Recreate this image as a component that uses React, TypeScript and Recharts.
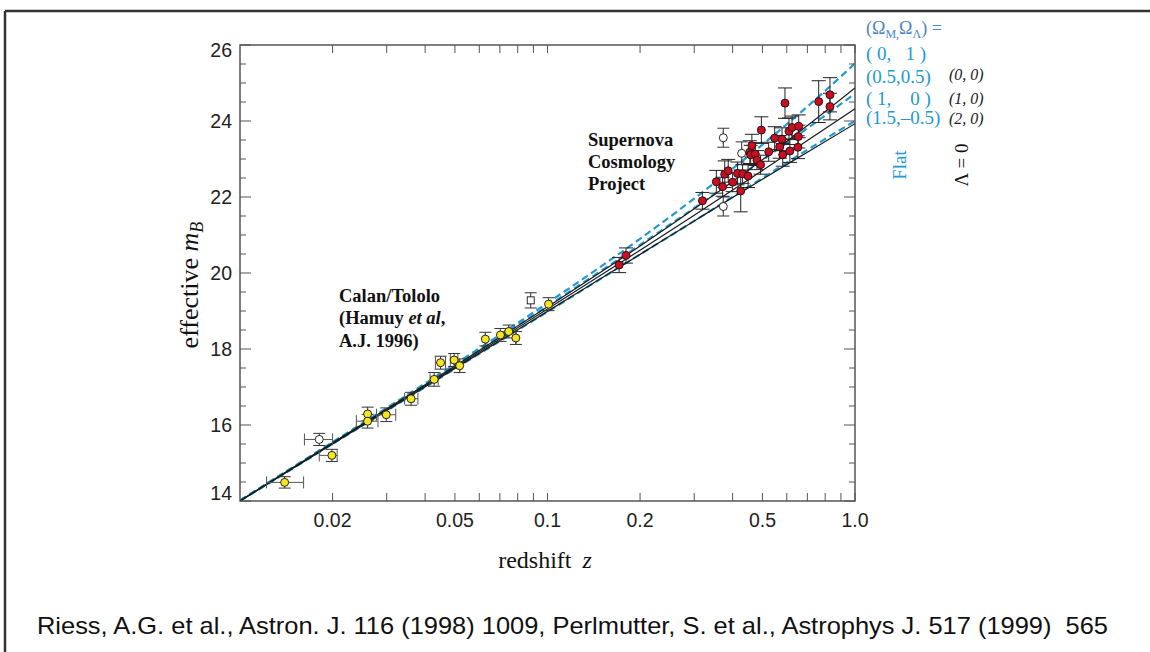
import React from "react";
import { ComposedChart, Line, Scatter, ErrorBar, XAxis, YAxis, ReferenceArea } from "recharts";

// plot box (pixels) – chart margins below are built from these
const PLOT_LEFT = 240;
const PLOT_RIGHT = 855;
const PLOT_TOP = 45;
const PLOT_BOTTOM = 501;

const SERIF = '"Liberation Serif", "DejaVu Serif", serif';
const SANS = '"Liberation Sans", Arial, sans-serif';
const BLUE = "#2399d2";

// model curves at these redshifts
const modelZ = [0.01, 0.02, 0.05, 0.1, 0.2, 0.3, 0.5, 0.7, 1.0];
const flat0_1 = [14.02, 15.55, 17.6, 19.21, 20.9, 21.96, 23.38, 24.38, 25.51];
const open0_0 = [14.01, 15.53, 17.55, 19.11, 20.71, 21.69, 22.98, 23.88, 24.87];
const flat05_05 = [14.01, 15.53, 17.56, 19.13, 20.74, 21.71, 22.97, 23.81, 24.72];
const eds1_0 = [14.0, 15.52, 17.52, 19.05, 20.6, 21.52, 22.7, 23.49, 24.32];
const flat15_m05 = [14.0, 15.5, 17.48, 18.98, 20.49, 21.37, 22.5, 23.24, 24.0];
const closed2_0 = [14.0, 15.5, 17.49, 18.99, 20.49, 21.37, 22.47, 23.18, 23.93];

// Calan/Tololo: [z, mB, dm, zLow, zHigh]
const calanTololo: number[][] = [
  [0.01397, 14.49, 0.15, 0.0122, 0.0161],
  [0.0199, 15.2, 0.16, 0.0181, 0.0207],
  [0.026, 16.29, 0.18, 0.026, 0.026],
  [0.026, 16.1, 0.18, 0.0239, 0.0281],
  [0.0299, 16.27, 0.18, 0.0278, 0.0321],
  [0.036, 16.69, 0.17, 0.0343, 0.0379],
  [0.0428, 17.2, 0.18, 0.0415, 0.0441],
  [0.0449, 17.64, 0.17, 0.0432, 0.0466],
  [0.0497, 17.71, 0.17, 0.0483, 0.0511],
  [0.0518, 17.56, 0.18, 0.0518, 0.0518],
  [0.0628, 18.26, 0.18, 0.0628, 0.0628],
  [0.0703, 18.37, 0.17, 0.0703, 0.0703],
  [0.0748, 18.46, 0.17, 0.0748, 0.0748],
  [0.0789, 18.29, 0.17, 0.0789, 0.0789],
  [0.1008, 19.18, 0.17, 0.1008, 0.1008],
];

// Supernova Cosmology Project: [z, mB, dm]
const scp: number[][] = [
  [0.171, 20.21, 0.2], [0.18, 20.46, 0.2], [0.319, 21.9, 0.22], [0.354, 22.4, 0.3],
  [0.371, 22.27, 0.25], [0.377, 22.6, 0.35], [0.387, 22.69, 0.3], [0.4, 22.39, 0.25],
  [0.415, 22.62, 0.3], [0.425, 22.16, 0.55], [0.431, 22.61, 0.25], [0.449, 22.55, 0.3],
  [0.455, 23.18, 0.3], [0.462, 23.35, 0.3], [0.458, 23.11, 0.25], [0.474, 23.13, 0.3],
  [0.48, 22.97, 0.25], [0.493, 22.85, 0.25], [0.496, 23.76, 0.35], [0.524, 23.19, 0.25],
  [0.548, 23.55, 0.3], [0.569, 23.32, 0.3], [0.579, 23.52, 0.3], [0.582, 23.11, 0.3],
  [0.592, 24.47, 0.4], [0.61, 23.73, 0.35], [0.614, 23.21, 0.3], [0.624, 23.83, 0.3],
  [0.656, 23.86, 0.3], [0.654, 23.59, 0.3], [0.652, 23.31, 0.3], [0.762, 24.51, 0.55],
  [0.829, 24.69, 0.45], [0.829, 24.38, 0.35],
];

// excluded points (open circles): [z, mB, dm, zLow, zHigh]
const excludedCircles: number[][] = [
  [0.0181, 15.62, 0.16, 0.0162, 0.02],
  [0.373, 23.56, 0.25, 0.373, 0.373],
  [0.373, 21.75, 0.25, 0.373, 0.373],
  [0.428, 23.15, 0.3, 0.428, 0.428],
];
const excludedSquares: number[][] = [[0.0882, 19.28, 0.2]];

const xTicks = [0.02, 0.03, 0.04, 0.05, 0.06, 0.07, 0.08, 0.09, 0.1, 0.2, 0.3, 0.4, 0.5, 0.6, 0.7, 0.8, 0.9, 1.0];
const xTickLabels: Record<string, string> = { "0.02": "0.02", "0.05": "0.05", "0.1": "0.1", "0.2": "0.2", "0.5": "0.5", "1": "1.0" };
const yTicks = [14, 14.5, 15, 15.5, 16, 16.5, 17, 17.5, 18, 18.5, 19, 19.5, 20, 20.5, 21, 21.5, 22, 22.5, 23, 23.5, 24, 24.5, 25, 25.5, 26];

const curve = (vals: number[]) => modelZ.map((z, i) => ({ z, m: vals[i] }));
const points = (rows: number[][]) =>
  rows.map((r) => ({
    z: r[0],
    m: r[1],
    ey: r[2],
    ex: [r[0] - (r[3] ?? r[0]), (r[4] ?? r[0]) - r[0]],
  }));

const XTick = (props: any) => {
  const { x, payload } = props;
  const label = xTickLabels[String(payload.value)];
  return (
    <g>
      <line x1={x} x2={x} y1={PLOT_BOTTOM} y2={PLOT_BOTTOM - 8} stroke="#555" strokeWidth={1} />
      <line x1={x} x2={x} y1={PLOT_TOP} y2={PLOT_TOP + 8} stroke="#555" strokeWidth={1} />
      {label && (
        <text x={x} y={PLOT_BOTTOM + 26} textAnchor="middle" fontFamily={SANS} fontSize={19.5} fill="#222">
          {label}
        </text>
      )}
    </g>
  );
};

const YTick = (props: any) => {
  const { y, payload } = props;
  const v = payload.value;
  const major = v % 2 === 0;
  const len = major ? 11 : 6;
  let ly = y + 7;
  if (v === 26) ly += 5;
  if (v === 14) ly -= 8;
  return (
    <g>
      <line x1={PLOT_LEFT} x2={PLOT_LEFT + len} y1={y} y2={y} stroke="#555" strokeWidth={1} />
      <line x1={PLOT_RIGHT - len} x2={PLOT_RIGHT} y1={y} y2={y} stroke="#555" strokeWidth={1} />
      {major && (
        <text x={PLOT_LEFT - 8} y={ly} textAnchor="end" fontFamily={SANS} fontSize={19.5} fill="#222">
          {v}
        </text>
      )}
    </g>
  );
};

const dot = (fill: string) => (p: any) =>
  <circle cx={p.cx} cy={p.cy} r={4} fill={fill} stroke="#111" strokeWidth={0.9} />;
const square = (p: any) =>
  <rect x={p.cx - 3.5} y={p.cy - 3.5} width={7} height={7} fill="#fff" stroke="#111" strokeWidth={0.9} />;

const dashed = { stroke: BLUE, strokeWidth: 2.2, strokeDasharray: "7 4" };
const solid = { stroke: "#1a1a1a", strokeWidth: 1.2 };

const App: React.FC = () => {
  const curves = [
    { key: "flat0_1", data: curve(flat0_1), style: dashed },
    { key: "flat05_05", data: curve(flat05_05), style: dashed },
    { key: "flat15_m05", data: curve(flat15_m05), style: dashed },
    { key: "open0_0", data: curve(open0_0), style: solid },
    { key: "eds1_0", data: curve(eds1_0), style: solid },
    { key: "closed2_0", data: curve(closed2_0), style: solid },
  ];

  return (
    <div style={{ position: "absolute", left: 0, top: 0, width: 1150, height: 652, background: "#fff" }}>
      <ComposedChart
        width={1150}
        height={652}
        margin={{ top: PLOT_TOP, right: 1150 - PLOT_RIGHT, left: PLOT_LEFT - 40, bottom: 652 - PLOT_BOTTOM - 30 }}
      >
        <XAxis
          dataKey="z"
          type="number"
          scale="log"
          domain={[0.01, 1]}
          allowDataOverflow
          ticks={xTicks}
          interval={0}
          tick={<XTick />}
          tickLine={false}
          axisLine={false}
          height={30}
        />
        <YAxis
          dataKey="m"
          type="number"
          domain={[14, 26]}
          allowDataOverflow
          ticks={yTicks}
          interval={0}
          tick={<YTick />}
          tickLine={false}
          axisLine={false}
          width={40}
        />
        <ReferenceArea x1={0.01} x2={1} y1={14} y2={26} fill="none" fillOpacity={0} stroke="#555" strokeWidth={1.5} ifOverflow="visible" />
        {curves.map((c) => (
          <Line
            key={c.key}
            data={c.data}
            dataKey="m"
            type="monotone"
            dot={false}
            activeDot={false}
            isAnimationActive={false}
            {...c.style}
          />
        ))}
        <Scatter data={points(calanTololo)} shape={dot("#f6e620")} isAnimationActive={false}>
          <ErrorBar dataKey="ey" direction="y" width={6} stroke="#333" strokeWidth={1} />
          <ErrorBar dataKey="ex" direction="x" width={6} stroke="#555" strokeWidth={1} />
        </Scatter>
        <Scatter data={points(excludedCircles)} shape={dot("#fff")} isAnimationActive={false}>
          <ErrorBar dataKey="ey" direction="y" width={6} stroke="#333" strokeWidth={1} />
          <ErrorBar dataKey="ex" direction="x" width={6} stroke="#555" strokeWidth={1} />
        </Scatter>
        <Scatter data={points(excludedSquares)} shape={square} isAnimationActive={false}>
          <ErrorBar dataKey="ey" direction="y" width={6} stroke="#333" strokeWidth={1} />
        </Scatter>
        <Scatter data={points(scp)} shape={dot("#cc0d22")} isAnimationActive={false}>
          <ErrorBar dataKey="ey" direction="y" width={7} stroke="#222" strokeWidth={1} />
        </Scatter>
      </ComposedChart>

      <svg width={1150} height={652} style={{ position: "absolute", left: 0, top: 0, pointerEvents: "none" }}>
        {/* slide frame */}
        <line x1={5} x2={1150} y1={11} y2={11} stroke="#333" strokeWidth={2.5} />
        <line x1={5} x2={5} y1={11} y2={652} stroke="#333" strokeWidth={2.5} />

        <text transform="translate(198,285) rotate(-90)" textAnchor="middle" fontFamily={SERIF} fontSize={26} fill="#111">
          effective <tspan fontStyle="italic">m</tspan>
          <tspan fontStyle="italic" fontSize={18} dy={5}>B</tspan>
        </text>
        <text x={545} y={568} textAnchor="middle" fontFamily={SERIF} fontSize={24} fill="#111">
          redshift<tspan dx={11} fontStyle="italic">z</tspan>
        </text>

        <g fontFamily={SERIF} fontWeight="bold" fontSize={18.5} fill="#111">
          <text x={339} y={302}>Calan/Tololo</text>
          <text x={339} y={324}>(Hamuy <tspan fontStyle="italic">et al</tspan>,</text>
          <text x={339} y={347}>A.J. 1996)</text>
          <text x={588} y={146}>Supernova</text>
          <text x={588} y={168}>Cosmology</text>
          <text x={588} y={190}>Project</text>
        </g>

        <g fontFamily={SERIF} fontSize={19} fill={BLUE}>
          <text x={866} y={34} fontSize={18} fill="#4a86c6">
            (Ω<tspan fontSize={12} dy={4}>M,</tspan><tspan dy={-4}>Ω</tspan><tspan fontSize={12} dy={4}>Λ</tspan><tspan dy={-4}>) =</tspan>
          </text>
          <text x={866} y={60} xmlSpace="preserve">( 0,   1 )</text>
          <text x={866} y={83}>(0.5,0.5)</text>
          <text x={866} y={105} xmlSpace="preserve">( 1,    0 )</text>
          <text x={866} y={124}>(1.5,–0.5)</text>
          <text transform="translate(906,165) rotate(-90)" textAnchor="middle">Flat</text>
        </g>
        <g fontFamily={SERIF} fontSize={16} fill="#222" fontStyle="italic">
          <text x={949} y={80}>(0, 0)</text>
          <text x={949} y={104}>(1, 0)</text>
          <text x={949} y={124}>(2, 0)</text>
        </g>
        <text transform="translate(968,165) rotate(-90)" textAnchor="middle" fontFamily={SERIF} fontSize={19} fill="#111">
          Λ = 0
        </text>

        <text
          x={37}
          y={634}
          fontFamily={SANS}
          fontSize={24}
          fill="#111"
          xmlSpace="preserve"
          textLength={1071}
          lengthAdjust="spacingAndGlyphs"
        >
          Riess, A.G. et al., Astron. J. 116 (1998) 1009, Perlmutter, S. et al., Astrophys J. 517 (1999)  565
        </text>
      </svg>
    </div>
  );
};

export default App;
